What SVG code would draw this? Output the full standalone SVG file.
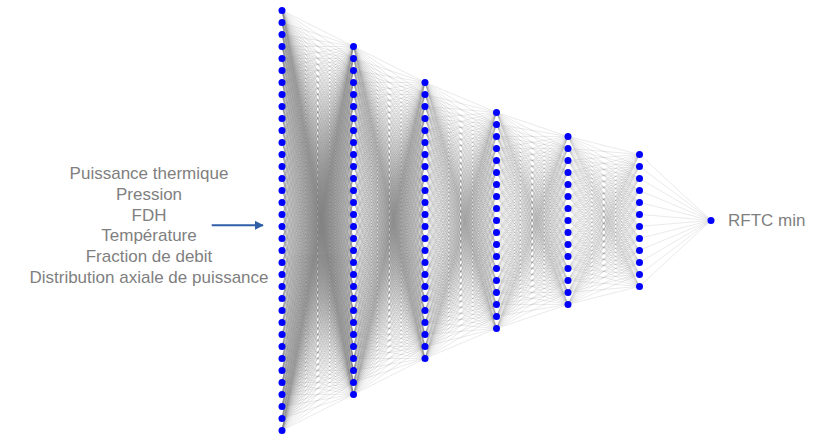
<svg xmlns="http://www.w3.org/2000/svg" xmlns:xlink="http://www.w3.org/1999/xlink" width="826" height="434" viewBox="0 0 826 434">
<style>
.e{fill:none;stroke:#7a7a7a;stroke-width:0.5;stroke-opacity:0.32;vector-effect:non-scaling-stroke}
.n circle{fill:#0000ff}
.t{font-family:"Liberation Sans",Arial,sans-serif;font-size:17px;fill:#7f7f7f}
</style>
<defs>
<marker id="ah" viewBox="0 0 10 10" refX="9" refY="5" markerWidth="4.5" markerHeight="4.5" orient="auto" markerUnits="strokeWidth">
<path d="M0 0L10 5L0 10Z" fill="#2f5fa7"/>
</marker>
</defs>
<rect width="826" height="434" fill="#ffffff"/>
<g id="connectors">
<g id="gap1" transform="translate(353.5 10.4)">
<path id="f1" class="e" d="M-71.5 0L0 36M-71.5 0L0 48M-71.5 0L0 60M-71.5 0L0 72M-71.5 0L0 84M-71.5 0L0 96M-71.5 0L0 108M-71.5 0L0 120M-71.5 0L0 132M-71.5 0L0 144M-71.5 0L0 156M-71.5 0L0 168M-71.5 0L0 180M-71.5 0L0 192M-71.5 0L0 204M-71.5 0L0 216M-71.5 0L0 228M-71.5 0L0 240M-71.5 0L0 252M-71.5 0L0 264M-71.5 0L0 276M-71.5 0L0 288M-71.5 0L0 300M-71.5 0L0 312M-71.5 0L0 324M-71.5 0L0 336M-71.5 0L0 348M-71.5 0L0 360M-71.5 0L0 372M-71.5 0L0 384"/>
<use href="#f1" transform="matrix(1 -0.167832 0 1 0 0)"/>
<use href="#f1" transform="matrix(1 -0.335664 0 1 0 0)"/>
<use href="#f1" transform="matrix(1 -0.503497 0 1 0 0)"/>
<use href="#f1" transform="matrix(1 -0.671329 0 1 0 0)"/>
<use href="#f1" transform="matrix(1 -0.839161 0 1 0 0)"/>
<use href="#f1" transform="matrix(1 -1.006993 0 1 0 0)"/>
<use href="#f1" transform="matrix(1 -1.174825 0 1 0 0)"/>
<use href="#f1" transform="matrix(1 -1.342657 0 1 0 0)"/>
<use href="#f1" transform="matrix(1 -1.510490 0 1 0 0)"/>
<use href="#f1" transform="matrix(1 -1.678322 0 1 0 0)"/>
<use href="#f1" transform="matrix(1 -1.846154 0 1 0 0)"/>
<use href="#f1" transform="matrix(1 -2.013986 0 1 0 0)"/>
<use href="#f1" transform="matrix(1 -2.181818 0 1 0 0)"/>
<use href="#f1" transform="matrix(1 -2.349650 0 1 0 0)"/>
<use href="#f1" transform="matrix(1 -2.517483 0 1 0 0)"/>
<use href="#f1" transform="matrix(1 -2.685315 0 1 0 0)"/>
<use href="#f1" transform="matrix(1 -2.853147 0 1 0 0)"/>
<use href="#f1" transform="matrix(1 -3.020979 0 1 0 0)"/>
<use href="#f1" transform="matrix(1 -3.188811 0 1 0 0)"/>
<use href="#f1" transform="matrix(1 -3.356643 0 1 0 0)"/>
<use href="#f1" transform="matrix(1 -3.524476 0 1 0 0)"/>
<use href="#f1" transform="matrix(1 -3.692308 0 1 0 0)"/>
<use href="#f1" transform="matrix(1 -3.860140 0 1 0 0)"/>
<use href="#f1" transform="matrix(1 -4.027972 0 1 0 0)"/>
<use href="#f1" transform="matrix(1 -4.195804 0 1 0 0)"/>
<use href="#f1" transform="matrix(1 -4.363636 0 1 0 0)"/>
<use href="#f1" transform="matrix(1 -4.531469 0 1 0 0)"/>
<use href="#f1" transform="matrix(1 -4.699301 0 1 0 0)"/>
<use href="#f1" transform="matrix(1 -4.867133 0 1 0 0)"/>
<use href="#f1" transform="matrix(1 -5.034965 0 1 0 0)"/>
<use href="#f1" transform="matrix(1 -5.202797 0 1 0 0)"/>
<use href="#f1" transform="matrix(1 -5.370629 0 1 0 0)"/>
<use href="#f1" transform="matrix(1 -5.538462 0 1 0 0)"/>
<use href="#f1" transform="matrix(1 -5.706294 0 1 0 0)"/>
<use href="#f1" transform="matrix(1 -5.874126 0 1 0 0)"/>
</g>
<g id="gap2" transform="translate(425 46.4)">
<path id="f2" class="e" d="M-71.5 0L0 36M-71.5 0L0 48M-71.5 0L0 60M-71.5 0L0 72M-71.5 0L0 84M-71.5 0L0 96M-71.5 0L0 108M-71.5 0L0 120M-71.5 0L0 132M-71.5 0L0 144M-71.5 0L0 156M-71.5 0L0 168M-71.5 0L0 180M-71.5 0L0 192M-71.5 0L0 204M-71.5 0L0 216M-71.5 0L0 228M-71.5 0L0 240M-71.5 0L0 252M-71.5 0L0 264M-71.5 0L0 276M-71.5 0L0 288M-71.5 0L0 300M-71.5 0L0 312"/>
<use href="#f2" transform="matrix(1 -0.167832 0 1 0 0)"/>
<use href="#f2" transform="matrix(1 -0.335664 0 1 0 0)"/>
<use href="#f2" transform="matrix(1 -0.503497 0 1 0 0)"/>
<use href="#f2" transform="matrix(1 -0.671329 0 1 0 0)"/>
<use href="#f2" transform="matrix(1 -0.839161 0 1 0 0)"/>
<use href="#f2" transform="matrix(1 -1.006993 0 1 0 0)"/>
<use href="#f2" transform="matrix(1 -1.174825 0 1 0 0)"/>
<use href="#f2" transform="matrix(1 -1.342657 0 1 0 0)"/>
<use href="#f2" transform="matrix(1 -1.510490 0 1 0 0)"/>
<use href="#f2" transform="matrix(1 -1.678322 0 1 0 0)"/>
<use href="#f2" transform="matrix(1 -1.846154 0 1 0 0)"/>
<use href="#f2" transform="matrix(1 -2.013986 0 1 0 0)"/>
<use href="#f2" transform="matrix(1 -2.181818 0 1 0 0)"/>
<use href="#f2" transform="matrix(1 -2.349650 0 1 0 0)"/>
<use href="#f2" transform="matrix(1 -2.517483 0 1 0 0)"/>
<use href="#f2" transform="matrix(1 -2.685315 0 1 0 0)"/>
<use href="#f2" transform="matrix(1 -2.853147 0 1 0 0)"/>
<use href="#f2" transform="matrix(1 -3.020979 0 1 0 0)"/>
<use href="#f2" transform="matrix(1 -3.188811 0 1 0 0)"/>
<use href="#f2" transform="matrix(1 -3.356643 0 1 0 0)"/>
<use href="#f2" transform="matrix(1 -3.524476 0 1 0 0)"/>
<use href="#f2" transform="matrix(1 -3.692308 0 1 0 0)"/>
<use href="#f2" transform="matrix(1 -3.860140 0 1 0 0)"/>
<use href="#f2" transform="matrix(1 -4.027972 0 1 0 0)"/>
<use href="#f2" transform="matrix(1 -4.195804 0 1 0 0)"/>
<use href="#f2" transform="matrix(1 -4.363636 0 1 0 0)"/>
<use href="#f2" transform="matrix(1 -4.531469 0 1 0 0)"/>
<use href="#f2" transform="matrix(1 -4.699301 0 1 0 0)"/>
<use href="#f2" transform="matrix(1 -4.867133 0 1 0 0)"/>
</g>
<g id="gap3" transform="translate(496.5 82.4)">
<path id="f3" class="e" d="M-71.5 0L0 30M-71.5 0L0 42M-71.5 0L0 54M-71.5 0L0 66M-71.5 0L0 78M-71.5 0L0 90M-71.5 0L0 102M-71.5 0L0 114M-71.5 0L0 126M-71.5 0L0 138M-71.5 0L0 150M-71.5 0L0 162M-71.5 0L0 174M-71.5 0L0 186M-71.5 0L0 198M-71.5 0L0 210M-71.5 0L0 222M-71.5 0L0 234M-71.5 0L0 246"/>
<use href="#f3" transform="matrix(1 -0.167832 0 1 0 0)"/>
<use href="#f3" transform="matrix(1 -0.335664 0 1 0 0)"/>
<use href="#f3" transform="matrix(1 -0.503497 0 1 0 0)"/>
<use href="#f3" transform="matrix(1 -0.671329 0 1 0 0)"/>
<use href="#f3" transform="matrix(1 -0.839161 0 1 0 0)"/>
<use href="#f3" transform="matrix(1 -1.006993 0 1 0 0)"/>
<use href="#f3" transform="matrix(1 -1.174825 0 1 0 0)"/>
<use href="#f3" transform="matrix(1 -1.342657 0 1 0 0)"/>
<use href="#f3" transform="matrix(1 -1.510490 0 1 0 0)"/>
<use href="#f3" transform="matrix(1 -1.678322 0 1 0 0)"/>
<use href="#f3" transform="matrix(1 -1.846154 0 1 0 0)"/>
<use href="#f3" transform="matrix(1 -2.013986 0 1 0 0)"/>
<use href="#f3" transform="matrix(1 -2.181818 0 1 0 0)"/>
<use href="#f3" transform="matrix(1 -2.349650 0 1 0 0)"/>
<use href="#f3" transform="matrix(1 -2.517483 0 1 0 0)"/>
<use href="#f3" transform="matrix(1 -2.685315 0 1 0 0)"/>
<use href="#f3" transform="matrix(1 -2.853147 0 1 0 0)"/>
<use href="#f3" transform="matrix(1 -3.020979 0 1 0 0)"/>
<use href="#f3" transform="matrix(1 -3.188811 0 1 0 0)"/>
<use href="#f3" transform="matrix(1 -3.356643 0 1 0 0)"/>
<use href="#f3" transform="matrix(1 -3.524476 0 1 0 0)"/>
<use href="#f3" transform="matrix(1 -3.692308 0 1 0 0)"/>
<use href="#f3" transform="matrix(1 -3.860140 0 1 0 0)"/>
</g>
<g id="gap4" transform="translate(568 112.4)">
<path id="f4" class="e" d="M-71.5 0L0 24M-71.5 0L0 36M-71.5 0L0 48M-71.5 0L0 60M-71.5 0L0 72M-71.5 0L0 84M-71.5 0L0 96M-71.5 0L0 108M-71.5 0L0 120M-71.5 0L0 132M-71.5 0L0 144M-71.5 0L0 156M-71.5 0L0 168M-71.5 0L0 180M-71.5 0L0 192"/>
<use href="#f4" transform="matrix(1 -0.167832 0 1 0 0)"/>
<use href="#f4" transform="matrix(1 -0.335664 0 1 0 0)"/>
<use href="#f4" transform="matrix(1 -0.503497 0 1 0 0)"/>
<use href="#f4" transform="matrix(1 -0.671329 0 1 0 0)"/>
<use href="#f4" transform="matrix(1 -0.839161 0 1 0 0)"/>
<use href="#f4" transform="matrix(1 -1.006993 0 1 0 0)"/>
<use href="#f4" transform="matrix(1 -1.174825 0 1 0 0)"/>
<use href="#f4" transform="matrix(1 -1.342657 0 1 0 0)"/>
<use href="#f4" transform="matrix(1 -1.510490 0 1 0 0)"/>
<use href="#f4" transform="matrix(1 -1.678322 0 1 0 0)"/>
<use href="#f4" transform="matrix(1 -1.846154 0 1 0 0)"/>
<use href="#f4" transform="matrix(1 -2.013986 0 1 0 0)"/>
<use href="#f4" transform="matrix(1 -2.181818 0 1 0 0)"/>
<use href="#f4" transform="matrix(1 -2.349650 0 1 0 0)"/>
<use href="#f4" transform="matrix(1 -2.517483 0 1 0 0)"/>
<use href="#f4" transform="matrix(1 -2.685315 0 1 0 0)"/>
<use href="#f4" transform="matrix(1 -2.853147 0 1 0 0)"/>
<use href="#f4" transform="matrix(1 -3.020979 0 1 0 0)"/>
</g>
<g id="gap5" transform="translate(639.5 136.4)">
<path id="f5" class="e" d="M-71.5 0L0 18M-71.5 0L0 30M-71.5 0L0 42M-71.5 0L0 54M-71.5 0L0 66M-71.5 0L0 78M-71.5 0L0 90M-71.5 0L0 102M-71.5 0L0 114M-71.5 0L0 126M-71.5 0L0 138M-71.5 0L0 150"/>
<use href="#f5" transform="matrix(1 -0.167832 0 1 0 0)"/>
<use href="#f5" transform="matrix(1 -0.335664 0 1 0 0)"/>
<use href="#f5" transform="matrix(1 -0.503497 0 1 0 0)"/>
<use href="#f5" transform="matrix(1 -0.671329 0 1 0 0)"/>
<use href="#f5" transform="matrix(1 -0.839161 0 1 0 0)"/>
<use href="#f5" transform="matrix(1 -1.006993 0 1 0 0)"/>
<use href="#f5" transform="matrix(1 -1.174825 0 1 0 0)"/>
<use href="#f5" transform="matrix(1 -1.342657 0 1 0 0)"/>
<use href="#f5" transform="matrix(1 -1.510490 0 1 0 0)"/>
<use href="#f5" transform="matrix(1 -1.678322 0 1 0 0)"/>
<use href="#f5" transform="matrix(1 -1.846154 0 1 0 0)"/>
<use href="#f5" transform="matrix(1 -2.013986 0 1 0 0)"/>
<use href="#f5" transform="matrix(1 -2.181818 0 1 0 0)"/>
<use href="#f5" transform="matrix(1 -2.349650 0 1 0 0)"/>
</g>
<path id="gap6" class="e" d="M639.5 154.4L711 220.4M639.5 166.4L711 220.4M639.5 178.4L711 220.4M639.5 190.4L711 220.4M639.5 202.4L711 220.4M639.5 214.4L711 220.4M639.5 226.4L711 220.4M639.5 238.4L711 220.4M639.5 250.4L711 220.4M639.5 262.4L711 220.4M639.5 274.4L711 220.4M639.5 286.4L711 220.4"/>
<path id="input-arrow" d="M211.7 225.3H263" fill="none" stroke="#2f5fa7" stroke-width="2" marker-end="url(#ah)"/>
</g>
<g id="layer1" class="n">
<g id="h1-1"><circle cx="282" cy="10.4" r="3.5"/></g>
<g id="h1-2"><circle cx="282" cy="22.4" r="3.5"/></g>
<g id="h1-3"><circle cx="282" cy="34.4" r="3.5"/></g>
<g id="h1-4"><circle cx="282" cy="46.4" r="3.5"/></g>
<g id="h1-5"><circle cx="282" cy="58.4" r="3.5"/></g>
<g id="h1-6"><circle cx="282" cy="70.4" r="3.5"/></g>
<g id="h1-7"><circle cx="282" cy="82.4" r="3.5"/></g>
<g id="h1-8"><circle cx="282" cy="94.4" r="3.5"/></g>
<g id="h1-9"><circle cx="282" cy="106.4" r="3.5"/></g>
<g id="h1-10"><circle cx="282" cy="118.4" r="3.5"/></g>
<g id="h1-11"><circle cx="282" cy="130.4" r="3.5"/></g>
<g id="h1-12"><circle cx="282" cy="142.4" r="3.5"/></g>
<g id="h1-13"><circle cx="282" cy="154.4" r="3.5"/></g>
<g id="h1-14"><circle cx="282" cy="166.4" r="3.5"/></g>
<g id="h1-15"><circle cx="282" cy="178.4" r="3.5"/></g>
<g id="h1-16"><circle cx="282" cy="190.4" r="3.5"/></g>
<g id="h1-17"><circle cx="282" cy="202.4" r="3.5"/></g>
<g id="h1-18"><circle cx="282" cy="214.4" r="3.5"/></g>
<g id="h1-19"><circle cx="282" cy="226.4" r="3.5"/></g>
<g id="h1-20"><circle cx="282" cy="238.4" r="3.5"/></g>
<g id="h1-21"><circle cx="282" cy="250.4" r="3.5"/></g>
<g id="h1-22"><circle cx="282" cy="262.4" r="3.5"/></g>
<g id="h1-23"><circle cx="282" cy="274.4" r="3.5"/></g>
<g id="h1-24"><circle cx="282" cy="286.4" r="3.5"/></g>
<g id="h1-25"><circle cx="282" cy="298.4" r="3.5"/></g>
<g id="h1-26"><circle cx="282" cy="310.4" r="3.5"/></g>
<g id="h1-27"><circle cx="282" cy="322.4" r="3.5"/></g>
<g id="h1-28"><circle cx="282" cy="334.4" r="3.5"/></g>
<g id="h1-29"><circle cx="282" cy="346.4" r="3.5"/></g>
<g id="h1-30"><circle cx="282" cy="358.4" r="3.5"/></g>
<g id="h1-31"><circle cx="282" cy="370.4" r="3.5"/></g>
<g id="h1-32"><circle cx="282" cy="382.4" r="3.5"/></g>
<g id="h1-33"><circle cx="282" cy="394.4" r="3.5"/></g>
<g id="h1-34"><circle cx="282" cy="406.4" r="3.5"/></g>
<g id="h1-35"><circle cx="282" cy="418.4" r="3.5"/></g>
<g id="h1-36"><circle cx="282" cy="430.4" r="3.5"/></g>
</g>
<g id="layer2" class="n">
<g id="h2-1"><circle cx="353.5" cy="46.4" r="3.5"/></g>
<g id="h2-2"><circle cx="353.5" cy="58.4" r="3.5"/></g>
<g id="h2-3"><circle cx="353.5" cy="70.4" r="3.5"/></g>
<g id="h2-4"><circle cx="353.5" cy="82.4" r="3.5"/></g>
<g id="h2-5"><circle cx="353.5" cy="94.4" r="3.5"/></g>
<g id="h2-6"><circle cx="353.5" cy="106.4" r="3.5"/></g>
<g id="h2-7"><circle cx="353.5" cy="118.4" r="3.5"/></g>
<g id="h2-8"><circle cx="353.5" cy="130.4" r="3.5"/></g>
<g id="h2-9"><circle cx="353.5" cy="142.4" r="3.5"/></g>
<g id="h2-10"><circle cx="353.5" cy="154.4" r="3.5"/></g>
<g id="h2-11"><circle cx="353.5" cy="166.4" r="3.5"/></g>
<g id="h2-12"><circle cx="353.5" cy="178.4" r="3.5"/></g>
<g id="h2-13"><circle cx="353.5" cy="190.4" r="3.5"/></g>
<g id="h2-14"><circle cx="353.5" cy="202.4" r="3.5"/></g>
<g id="h2-15"><circle cx="353.5" cy="214.4" r="3.5"/></g>
<g id="h2-16"><circle cx="353.5" cy="226.4" r="3.5"/></g>
<g id="h2-17"><circle cx="353.5" cy="238.4" r="3.5"/></g>
<g id="h2-18"><circle cx="353.5" cy="250.4" r="3.5"/></g>
<g id="h2-19"><circle cx="353.5" cy="262.4" r="3.5"/></g>
<g id="h2-20"><circle cx="353.5" cy="274.4" r="3.5"/></g>
<g id="h2-21"><circle cx="353.5" cy="286.4" r="3.5"/></g>
<g id="h2-22"><circle cx="353.5" cy="298.4" r="3.5"/></g>
<g id="h2-23"><circle cx="353.5" cy="310.4" r="3.5"/></g>
<g id="h2-24"><circle cx="353.5" cy="322.4" r="3.5"/></g>
<g id="h2-25"><circle cx="353.5" cy="334.4" r="3.5"/></g>
<g id="h2-26"><circle cx="353.5" cy="346.4" r="3.5"/></g>
<g id="h2-27"><circle cx="353.5" cy="358.4" r="3.5"/></g>
<g id="h2-28"><circle cx="353.5" cy="370.4" r="3.5"/></g>
<g id="h2-29"><circle cx="353.5" cy="382.4" r="3.5"/></g>
<g id="h2-30"><circle cx="353.5" cy="394.4" r="3.5"/></g>
</g>
<g id="layer3" class="n">
<g id="h3-1"><circle cx="425" cy="82.4" r="3.5"/></g>
<g id="h3-2"><circle cx="425" cy="94.4" r="3.5"/></g>
<g id="h3-3"><circle cx="425" cy="106.4" r="3.5"/></g>
<g id="h3-4"><circle cx="425" cy="118.4" r="3.5"/></g>
<g id="h3-5"><circle cx="425" cy="130.4" r="3.5"/></g>
<g id="h3-6"><circle cx="425" cy="142.4" r="3.5"/></g>
<g id="h3-7"><circle cx="425" cy="154.4" r="3.5"/></g>
<g id="h3-8"><circle cx="425" cy="166.4" r="3.5"/></g>
<g id="h3-9"><circle cx="425" cy="178.4" r="3.5"/></g>
<g id="h3-10"><circle cx="425" cy="190.4" r="3.5"/></g>
<g id="h3-11"><circle cx="425" cy="202.4" r="3.5"/></g>
<g id="h3-12"><circle cx="425" cy="214.4" r="3.5"/></g>
<g id="h3-13"><circle cx="425" cy="226.4" r="3.5"/></g>
<g id="h3-14"><circle cx="425" cy="238.4" r="3.5"/></g>
<g id="h3-15"><circle cx="425" cy="250.4" r="3.5"/></g>
<g id="h3-16"><circle cx="425" cy="262.4" r="3.5"/></g>
<g id="h3-17"><circle cx="425" cy="274.4" r="3.5"/></g>
<g id="h3-18"><circle cx="425" cy="286.4" r="3.5"/></g>
<g id="h3-19"><circle cx="425" cy="298.4" r="3.5"/></g>
<g id="h3-20"><circle cx="425" cy="310.4" r="3.5"/></g>
<g id="h3-21"><circle cx="425" cy="322.4" r="3.5"/></g>
<g id="h3-22"><circle cx="425" cy="334.4" r="3.5"/></g>
<g id="h3-23"><circle cx="425" cy="346.4" r="3.5"/></g>
<g id="h3-24"><circle cx="425" cy="358.4" r="3.5"/></g>
</g>
<g id="layer4" class="n">
<g id="h4-1"><circle cx="496.5" cy="112.4" r="3.5"/></g>
<g id="h4-2"><circle cx="496.5" cy="124.4" r="3.5"/></g>
<g id="h4-3"><circle cx="496.5" cy="136.4" r="3.5"/></g>
<g id="h4-4"><circle cx="496.5" cy="148.4" r="3.5"/></g>
<g id="h4-5"><circle cx="496.5" cy="160.4" r="3.5"/></g>
<g id="h4-6"><circle cx="496.5" cy="172.4" r="3.5"/></g>
<g id="h4-7"><circle cx="496.5" cy="184.4" r="3.5"/></g>
<g id="h4-8"><circle cx="496.5" cy="196.4" r="3.5"/></g>
<g id="h4-9"><circle cx="496.5" cy="208.4" r="3.5"/></g>
<g id="h4-10"><circle cx="496.5" cy="220.4" r="3.5"/></g>
<g id="h4-11"><circle cx="496.5" cy="232.4" r="3.5"/></g>
<g id="h4-12"><circle cx="496.5" cy="244.4" r="3.5"/></g>
<g id="h4-13"><circle cx="496.5" cy="256.4" r="3.5"/></g>
<g id="h4-14"><circle cx="496.5" cy="268.4" r="3.5"/></g>
<g id="h4-15"><circle cx="496.5" cy="280.4" r="3.5"/></g>
<g id="h4-16"><circle cx="496.5" cy="292.4" r="3.5"/></g>
<g id="h4-17"><circle cx="496.5" cy="304.4" r="3.5"/></g>
<g id="h4-18"><circle cx="496.5" cy="316.4" r="3.5"/></g>
<g id="h4-19"><circle cx="496.5" cy="328.4" r="3.5"/></g>
</g>
<g id="layer5" class="n">
<g id="h5-1"><circle cx="568" cy="136.4" r="3.5"/></g>
<g id="h5-2"><circle cx="568" cy="148.4" r="3.5"/></g>
<g id="h5-3"><circle cx="568" cy="160.4" r="3.5"/></g>
<g id="h5-4"><circle cx="568" cy="172.4" r="3.5"/></g>
<g id="h5-5"><circle cx="568" cy="184.4" r="3.5"/></g>
<g id="h5-6"><circle cx="568" cy="196.4" r="3.5"/></g>
<g id="h5-7"><circle cx="568" cy="208.4" r="3.5"/></g>
<g id="h5-8"><circle cx="568" cy="220.4" r="3.5"/></g>
<g id="h5-9"><circle cx="568" cy="232.4" r="3.5"/></g>
<g id="h5-10"><circle cx="568" cy="244.4" r="3.5"/></g>
<g id="h5-11"><circle cx="568" cy="256.4" r="3.5"/></g>
<g id="h5-12"><circle cx="568" cy="268.4" r="3.5"/></g>
<g id="h5-13"><circle cx="568" cy="280.4" r="3.5"/></g>
<g id="h5-14"><circle cx="568" cy="292.4" r="3.5"/></g>
<g id="h5-15"><circle cx="568" cy="304.4" r="3.5"/></g>
</g>
<g id="layer6" class="n">
<g id="h6-1"><circle cx="639.5" cy="154.4" r="3.5"/></g>
<g id="h6-2"><circle cx="639.5" cy="166.4" r="3.5"/></g>
<g id="h6-3"><circle cx="639.5" cy="178.4" r="3.5"/></g>
<g id="h6-4"><circle cx="639.5" cy="190.4" r="3.5"/></g>
<g id="h6-5"><circle cx="639.5" cy="202.4" r="3.5"/></g>
<g id="h6-6"><circle cx="639.5" cy="214.4" r="3.5"/></g>
<g id="h6-7"><circle cx="639.5" cy="226.4" r="3.5"/></g>
<g id="h6-8"><circle cx="639.5" cy="238.4" r="3.5"/></g>
<g id="h6-9"><circle cx="639.5" cy="250.4" r="3.5"/></g>
<g id="h6-10"><circle cx="639.5" cy="262.4" r="3.5"/></g>
<g id="h6-11"><circle cx="639.5" cy="274.4" r="3.5"/></g>
<g id="h6-12"><circle cx="639.5" cy="286.4" r="3.5"/></g>
</g>
<g id="output" class="n">
<g id="out-1"><circle cx="711" cy="220.4" r="3.5"/></g>
<text class="t" x="728" y="225.8">RFTC min</text>
</g>
<g id="inputs-label" class="t" text-anchor="middle">
<text x="149" y="179">Puissance thermique</text>
<text x="149" y="199.8">Pression</text>
<text x="149" y="220.6">FDH</text>
<text x="149" y="241.4">Température</text>
<text x="149" y="262.2">Fraction de debit</text>
<text x="149" y="283">Distribution axiale de puissance</text>
</g>
</svg>
